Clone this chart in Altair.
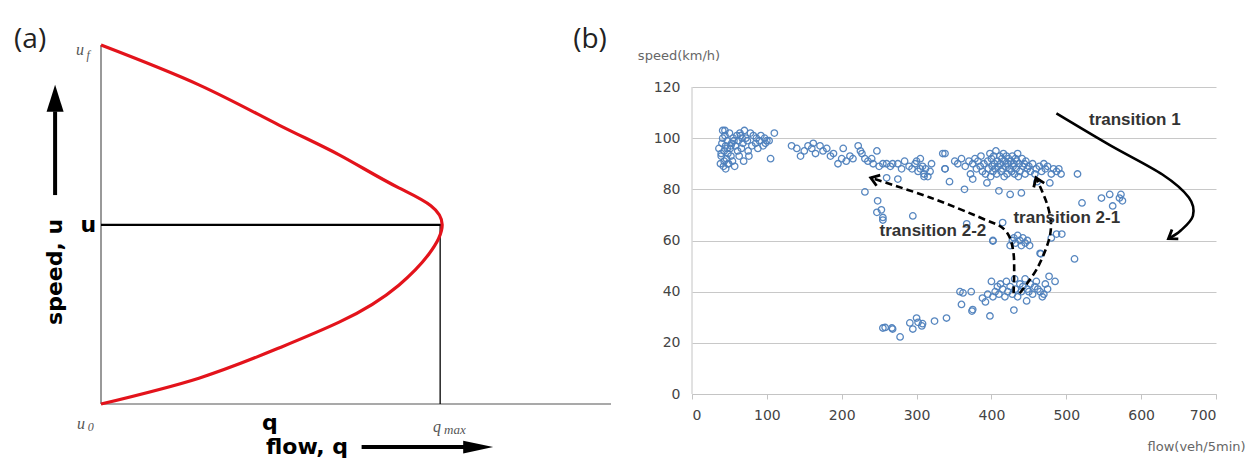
import altair as alt
import pandas as pd

# ---------------- panel (a): conceptual speed-flow curve -------------
curve_q = [0, 19.2, 34.9, 46.7, 58.4, 66.9, 58.4, 46.7, 34.9, 19.2, 0]
curve_u = [100, 88.9, 77.7, 69.4, 60.2, 49.9, 33.1, 22.8, 15.6, 7.2, 0]
u_level = 49.9      # speed at capacity
q_max = 66.5        # capacity flow

# ---------------- panel (b): observed speed-flow scatter -------------
flow_a = [36, 38, 39, 40, 41, 42, 43, 44, 45, 46, 47, 48, 49, 50, 51, 52, 53, 54, 55, 57,
          58, 60, 62, 63, 64, 66, 67, 68, 69, 70, 72, 74, 75, 78, 80, 82, 85, 86, 88, 90,
          92, 95, 97, 98, 100, 103, 105, 110, 41, 43, 45, 47, 39, 44, 48, 52, 56, 61, 65, 76]
speed_a = [96, 90, 93, 98, 100, 89, 95, 101, 97, 92, 99, 94, 90, 102, 96, 93, 98, 91, 100, 89,
           97, 101, 99, 93, 102, 96, 100, 98, 91, 103, 100, 99, 95, 102, 97, 101, 98, 100, 96, 99,
           101, 97, 100, 98, 99, 99, 92, 102, 103, 91, 88, 96, 94, 103, 90, 97, 99, 95, 101, 93]

flow_b = [133, 140, 145, 150, 155, 160, 162, 165, 171, 175, 180, 185, 189, 195, 200, 202, 206, 211, 215, 222,
          225, 227, 231, 235, 240, 242, 247, 250, 255, 260, 265, 268, 275, 280, 284, 290, 294, 298, 300, 302,
          305, 308, 310, 312, 315, 318, 320, 305, 310, 335, 338, 275, 260]
speed_b = [97, 96, 93, 95, 97, 96, 98, 94, 97, 95, 96, 93, 94, 90, 92, 96, 91, 93, 92, 97,
           95, 94, 92, 91, 92, 90, 95, 89, 90, 90, 89, 90, 90, 88, 91, 89, 88, 90, 91, 87,
           92, 89, 86, 88, 85, 87, 90, 88, 85, 94, 88, 84, 84.5]

flow_c = [231, 248, 253, 255, 247, 295, 255, 367, 402, 415, 515, 521, 547, 558, 562, 571, 575, 573, 494, 511,
          466, 487, 480]
speed_c = [79, 75.5, 72, 69, 71, 69.6, 68, 66.5, 59.8, 67, 86, 74.7, 76.6, 78, 73.5, 76.6, 75.5, 78, 62.5, 52.8,
           54.8, 62.5, 61]

flow_d = [338, 338, 344, 351, 355, 360, 364, 365, 370, 372, 375, 375, 378, 380, 382, 385, 386, 388, 390, 392,
          394, 395, 396, 398, 399, 400, 401, 402, 403, 404, 405, 406, 407, 408, 409, 410, 411, 412, 413, 414,
          415, 416, 417, 418, 419, 420, 421, 422, 423, 424, 425, 426, 427, 428, 429, 430, 431, 432, 433, 434,
          435, 436, 437, 438, 440, 441, 442, 444, 445, 446, 448, 450, 452, 455, 458, 460, 461, 464, 467, 470,
          472, 475, 478, 480, 483, 487, 490, 493]
speed_d = [94, 88, 83, 91, 90, 92, 80, 89, 91, 86, 84, 90, 92, 88, 91, 89, 93, 87, 90, 86,
           82.5, 91, 88, 94, 85, 92, 89, 87, 93, 90, 88, 95, 86, 91, 89, 79.4, 93, 90, 87, 92,
           88, 94, 85, 91, 89, 93, 86, 90, 92, 88, 78, 91, 87, 93, 89, 90, 86, 92, 88, 91,
           94, 85, 90, 87, 78.6, 92, 89, 90, 86, 91, 88, 89, 87, 90, 86, 88, 83, 89, 87, 90,
           88, 89, 82.5, 86, 88, 87, 88, 86]

flow_e = [358, 360, 362, 373, 374, 375, 388, 392, 395, 398, 400, 402, 405, 408, 410, 412, 415, 418, 420, 422,
          425, 428, 430, 431, 432, 435, 438, 440, 442, 445, 447, 448, 450, 452, 455, 458, 460, 462, 465, 468,
          470, 472, 475, 477, 485]
speed_e = [40, 35, 39.5, 40, 32.4, 33, 37.5, 36, 39, 30.5, 44, 38, 40, 42, 39, 43, 41, 38, 44, 40,
           42, 39, 32.8, 45, 41, 38, 43, 40, 42, 45, 36.4, 41, 40, 43, 39, 42, 44, 41, 40, 38,
           39, 43, 41, 46, 44]

flow_f = [402, 425, 428, 430, 432, 435, 438, 440, 442, 445, 448, 451, 465]
speed_f = [60, 58, 60, 61, 59, 62, 60, 58, 61, 59, 60, 58, 55]

flow_g = [255, 258, 267, 268, 278, 291, 295, 300, 302, 307, 308, 324, 340]
speed_g = [25.8, 26, 25.8, 25.4, 22.3, 27.8, 25.4, 29.7, 28, 26.6, 27.5, 28.5, 29.7]

# transition arrows (in data units)
t1_flow = [486.8, 557.6, 628.4, 663.7, 669.2, 652.9, 636.5]
t1_speed = [109.7, 97.4, 85.8, 76.8, 69.7, 63.9, 60.7]
t22_flow = [429.6, 429.6, 418.7, 389.4, 318.0, 238.8]
t22_speed = [39.4, 54.8, 63.9, 68.4, 76.8, 84.5]
t21_flow = [437.8, 462.2, 478.6, 475.8, 459.5]
t21_speed = [39.4, 49.7, 62.6, 72.9, 84.5]

x_ticks = [0, 100, 200, 300, 400, 500, 600, 700]
y_ticks = [0, 20, 40, 60, 80, 100, 120]

# ---------------------------------------------------------------------------------------
XA = alt.Scale(domain=[0, 100], nice=False, zero=False)
YA = alt.Scale(domain=[0, 100], nice=False, zero=False)
XB = alt.Scale(domain=[0, 700], nice=False, zero=False)
YB = alt.Scale(domain=[0, 136.42], nice=False, zero=False)

AXB = alt.Axis(values=x_ticks, grid=False, domainColor="#c4c4c4", tickColor="#c4c4c4", tickSize=5,
               labelFont="DejaVu Sans", labelFontSize=14, labelColor="#444444", labelPadding=9, title=None)
AYB = alt.Axis(values=y_ticks, grid=True, gridColor="#c8c8c8", gridWidth=1, domain=False, ticks=False,
               labelFont="DejaVu Sans", labelFontSize=14, labelColor="#444444", labelPadding=12, title=None)


def one(**kw):
    return pd.DataFrame({k: [v] for k, v in kw.items()})


def xa(f="q"):
    return alt.X(f + ":Q", scale=XA, axis=None)


def ya(f="u"):
    return alt.Y(f + ":Q", scale=YA, axis=None)


def xb(f="flow"):
    return alt.X(f + ":Q", scale=XB, axis=AXB)


def yb(f="speed"):
    return alt.Y(f + ":Q", scale=YB, axis=AYB)


def text_a(txt, q, u, **mk):
    return alt.Chart(one(q=q, u=u)).mark_text(text=txt, **mk).encode(x=xa(), y=ya())


def text_b(txt, f, s, **mk):
    return alt.Chart(one(flow=f, speed=s)).mark_text(text=txt, **mk).encode(x=xb(), y=yb())


# ---------------- panel (a) ----------------
curve_df = pd.DataFrame({"q": curve_q, "u": curve_u, "i": list(range(len(curve_q)))})
curve = alt.Chart(curve_df).mark_line(color="#e3131b", strokeWidth=3.2, interpolate="natural").encode(
    x=xa(), y=ya(), order=alt.Order("i:Q"))

# invisible anchor fixing the top-left corner of the drawing (page pixel 8,8)
anchor = alt.Chart(one(q=-18.235, u=110.03, u2=108)).mark_rule(strokeOpacity=0, color="white").encode(
    x=xa(), y=ya(), y2="u2:Q")

y_axis_a = alt.Chart(one(q=0, u=0, u2=100)).mark_rule(color="#555555", strokeWidth=1.2).encode(
    x=xa(), y=ya(), y2="u2:Q")
x_axis_a = alt.Chart(one(q=0, q2=100, u=0)).mark_rule(color="#555555", strokeWidth=1.2).encode(
    x=xa(), x2="q2:Q", y=ya())
h_line = alt.Chart(one(q=0, q2=q_max + 0.3, u=u_level)).mark_rule(color="black", strokeWidth=2.2).encode(
    x=xa(), x2="q2:Q", y=ya())
v_line = alt.Chart(one(q=q_max, u=0, u2=u_level)).mark_rule(color="black", strokeWidth=1.3).encode(
    x=xa(), y=ya(), y2="u2:Q")

up_shaft = alt.Chart(one(q=-9.0, u=58.2, u2=81.5)).mark_rule(color="black", strokeWidth=4).encode(
    x=xa(), y=ya(), y2="u2:Q")
up_head = alt.Chart(one(q=-9.0, u=88.9)).mark_point(
    shape="M0,0 L0.63,2 L-0.63,2 Z", filled=True, color="black", opacity=1, size=729, strokeWidth=0
).encode(x=xa(), y=ya())
rt_shaft = alt.Chart(one(q=51.1, q2=71.5, u=-12.0)).mark_rule(color="black", strokeWidth=4).encode(
    x=xa(), x2="q2:Q", y=ya())
rt_head = alt.Chart(one(q=76.9, u=-12.0)).mark_point(
    shape="M0,0 L0.43,2 L-0.43,2 Z", filled=True, color="black", opacity=1, size=900, strokeWidth=0, angle=90
).encode(x=xa(), y=ya())

bold = dict(font="DejaVu Sans", fontWeight="bold", fontSize=22, color="black")
serif = dict(font="Liberation Serif", fontStyle="italic", color="#555555")

panel_a = alt.layer(
    anchor, y_axis_a, x_axis_a, h_line, v_line, curve, up_shaft, up_head, rt_shaft, rt_head,
    text_a("(a)", -13.9, 101.4, font="Open Sans", fontSize=28, color="#222222"),
    text_a("u", -4.1, 98.6, fontSize=16, **serif),
    text_a("f", -2.5, 97.3, fontSize=12, **serif),
    text_a("u", -3.9, -5.6, fontSize=16, **serif),
    text_a("0", -2.0, -6.4, fontSize=12, **serif),
    text_a("u", -2.5, 49.9, **bold),
    text_a("q", 33.1, -7.2, baseline="alphabetic", **bold),
    text_a("q", 65.9, -7.8, baseline="alphabetic", fontSize=16, **serif),
    text_a("max", 69.4, -8.3, baseline="alphabetic", fontSize=13, **serif),
    text_a("flow, q", 40.4, -13.9, baseline="alphabetic", **bold),
    text_a("speed, u", -9.0, 36.8, angle=270, **bold),
).properties(width=510, height=359)

# ---------------- panel (b) ----------------
pts = pd.DataFrame({
    "flow": flow_a + flow_b + flow_c + flow_d + flow_e + flow_f + flow_g,
    "speed": speed_a + speed_b + speed_c + speed_d + speed_e + speed_f + speed_g,
})

scatter = alt.Chart(pts).mark_point(shape="circle", filled=False, size=42, strokeWidth=1.3,
                                    color="#4f81bd", opacity=0.95).encode(x=xb(), y=yb())

y_line_b = alt.Chart(one(flow=0, speed=0, speed2=120)).mark_rule(color="#c4c4c4", strokeWidth=1).encode(
    x=xb(), y=yb(), y2="speed2:Q")


def arrow(fl, sp, dash, angle):
    df = pd.DataFrame({"flow": fl, "speed": sp, "i": list(range(len(fl)))})
    mk = dict(color="black", strokeWidth=2.6, interpolate="cardinal")
    if dash:
        mk["strokeDash"] = [7, 4]
    line = alt.Chart(df).mark_line(**mk).encode(x=xb(), y=yb(), order=alt.Order("i:Q"))
    head = alt.Chart(df.tail(1)).mark_point(
        shape="M-0.7,1 L0,0 L0.7,1", filled=False, color="black", opacity=1, size=260,
        strokeWidth=2.8, angle=angle).encode(x=xb(), y=yb())
    return line + head


tfont = dict(font="Liberation Sans", fontWeight="bold", fontSize=17, color="#333333")
small = dict(font="DejaVu Sans", fontSize=13, color="#666666")

panel_b = alt.layer(
    y_line_b, scatter,
    arrow(t1_flow, t1_speed, False, 236),
    arrow(t22_flow, t22_speed, True, 289),
    arrow(t21_flow, t21_speed, True, 338),
    text_b("transition 1", 591.5, 107.1, **tfont),
    text_b("transition 2-1", 500.7, 68.8, **tfont),
    text_b("transition 2-2", 321.8, 63.7, **tfont),
    text_b("speed(km/h)", -17.4, 132.1, **small),
    text_b("flow(veh/5min)", 674.0, -20.7, **small),
    text_b("(b)", -136.3, 138.4, font="Open Sans", fontSize=28, color="#222222"),
).properties(width=524, height=349)

chart = alt.hconcat(panel_a, panel_b, spacing=81, bounds="flush").properties(
    autosize=alt.AutoSizeParams(type="pad"),
    padding={"left": 0, "top": 0, "right": 0, "bottom": 0},
).configure_view(strokeWidth=0)

chart.save("out.html", embed_options={"renderer": "svg", "actions": False})
